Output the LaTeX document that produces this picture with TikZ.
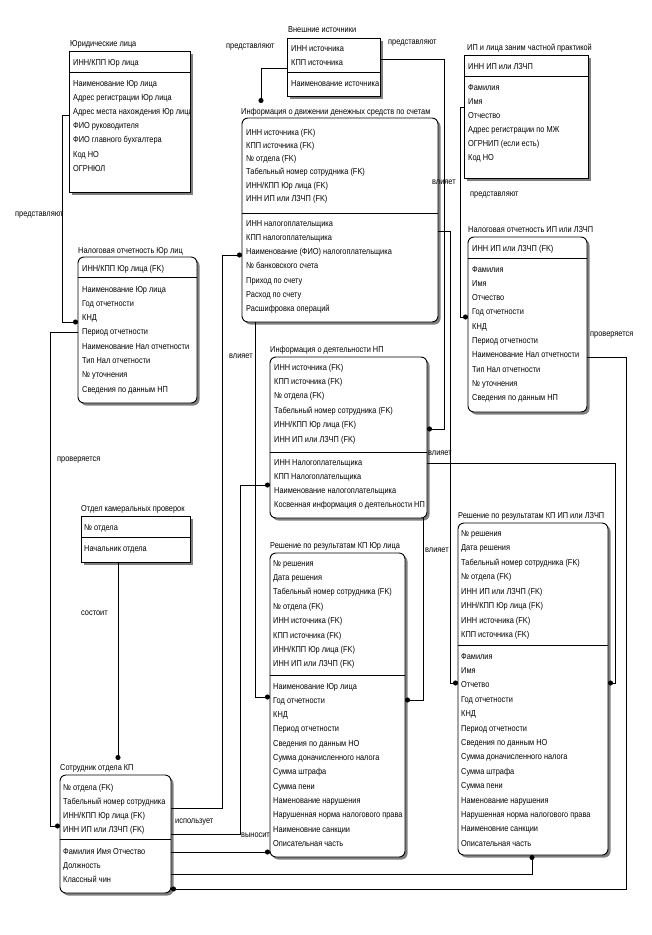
\documentclass[tikz,border=0pt]{standalone}
\usepackage{fontspec}
\setmainfont{Liberation Sans}[FakeStretch=0.86]
\usetikzlibrary{shadows,arrows.meta}
\newcommand\erows[5]{\foreach \t [count=\i] in {#5} {\node[rowtxt] (#1\i) at (#2,{#3+#4*(\i-1)}) {\t};}}
\tikzset{
  rowtxt/.style={anchor=base west, inner sep=0pt, font=\fontsize{8.6}{10}\selectfont},
  ttl/.style={rowtxt},
  lbl/.style={rowtxt},
  ent/.style={draw, line width=0.9pt, inner sep=0pt, outer sep=0pt, anchor=north west, fill=white,
    drop shadow={shadow xshift=2.5pt, shadow yshift=-2.5pt, fill=black!50, opacity=1}},
  dep/.style={ent, rounded corners=6pt},
  sepl/.style={line width=0.9pt},
  rel/.style={line width=0.8pt},
  dot/.style={-{Circle[length=5pt,width=5pt]}}
}
\begin{document}
\begin{tikzpicture}[x=1pt,y=-1pt]
\fill[white] (0,0) rectangle (652,935);
\useasboundingbox (0,0) rectangle (652,935);

% ---------- entities ----------
\node[ent, minimum width=121pt, minimum height=141pt] (JL) at (69,51) {};
\node[ent, minimum width=93pt, minimum height=58pt] (VI) at (287,38) {};
\node[ent, minimum width=124pt, minimum height=123pt] (IP) at (464,55) {};
\node[dep, minimum width=119pt, minimum height=175pt] (NI) at (468,237) {};
\node[dep, minimum width=196pt, minimum height=204pt] (MD) at (242,118) {};
\node[dep, minimum width=157pt, minimum height=161pt] (ND) at (270,357) {};
\node[dep, minimum width=119pt, minimum height=146pt] (NU) at (78,257) {};
\node[ent, minimum width=109pt, minimum height=46pt] (OK) at (81,516) {};
\node[dep, minimum width=111pt, minimum height=118pt] (SO) at (60,775) {};
\node[dep, minimum width=135pt, minimum height=304pt] (RU) at (270,553) {};
\node[dep, minimum width=150pt, minimum height=332pt] (RI) at (458,523) {};

% separators
\draw[sepl] (JL.west |- 0,72) -- (JL.east |- 0,72);
\draw[sepl] (VI.west |- 0,72) -- (VI.east |- 0,72);
\draw[sepl] (IP.west |- 0,76) -- (IP.east |- 0,76);
\draw[sepl] (NI.west |- 0,258) -- (NI.east |- 0,258);
\draw[sepl] (MD.west |- 0,213) -- (MD.east |- 0,213);
\draw[sepl] (ND.west |- 0,452) -- (ND.east |- 0,452);
\draw[sepl] (NU.west |- 0,277) -- (NU.east |- 0,277);
\draw[sepl] (OK.west |- 0,537) -- (OK.east |- 0,537);
\draw[sepl] (SO.west |- 0,839) -- (SO.east |- 0,839);
\draw[sepl] (RU.west |- 0,675) -- (RU.east |- 0,675);
\draw[sepl] (RI.west |- 0,645) -- (RI.east |- 0,645);

% titles
\node[ttl] (JLt) at (70,46) {Юридические лица};
\node[ttl] (VIt) at (288,32) {Внешние источники};
\node[ttl] (IPt) at (467,50) {ИП и лица заним частной практикой};
\node[ttl] (NIt) at (468,232) {Налоговая отчетность ИП или ЛЗЧП};
\node[ttl] (MDt) at (241,114) {Информация о движении денежных средств по счетам};
\node[ttl] (NDt) at (270,352) {Информация о деятельности НП};
\node[ttl] (NUt) at (78,253) {Налоговая отчетность Юр лиц};
\node[ttl] (OKt) at (81,511) {Отдел камеральных проверок};
\node[ttl] (SOt) at (60,770) {Сотрудник отдела КП};
\node[ttl] (RUt) at (270,548) {Решение по результатам КП Юр лица};
\node[ttl] (RIt) at (458,518) {Решение по результатам КП ИП или ЛЗЧП};

% rows
\erows{JLk}{73}{65}{14}{ИНН/КПП Юр лица}
\begin{scope}
\clip (JL.north west) rectangle (JL.south east);
\erows{JLa}{73}{86}{14.2}{Наименование Юр лица, Адрес регистрации Юр лица, Адрес места нахождения Юр лица, ФИО руководителя, ФИО главного бухгалтера, Код НО, ОГРНЮЛ}
\end{scope}
\erows{VIk}{291}{51}{14}{ИНН источника, КПП источника}
\erows{VIa}{291}{86}{14}{Наименование источника}
\erows{IPk}{468}{69}{14}{ИНН ИП или ЛЗЧП}
\erows{IPa}{468}{90}{14.1}{Фамилия, Имя, Отчество, Адрес регистрации по МЖ, ОГРНИП (если есть), Код НО}
\erows{NIk}{472}{251}{14}{ИНН ИП или ЛЗЧП (FK)}
\erows{NIa}{472}{272}{14.3}{Фамилия, Имя, Отчество, Год отчетности, КНД, Период отчетности, Наименование Нал отчетности, Тип Нал отчетности, № уточнения, Сведения по данным НП}
\erows{MDk}{246}{135}{13.3}{ИНН источника (FK), КПП источника (FK), № отдела (FK), Табельный номер сотрудника (FK), ИНН/КПП Юр лица (FK), ИНН ИП или ЛЗЧП (FK)}
\erows{MDa}{246}{226}{14.3}{ИНН налогоплательщика, КПП налогоплательщика, Наименование (ФИО) налогоплательщика, № банковского счета, Приход по счету, Расход по счету, Расшифровка операций}
\erows{NDk}{274}{370}{14.4}{ИНН источника (FK), КПП источника (FK), № отдела (FK), Табельный номер сотрудника (FK), ИНН/КПП Юр лица (FK), ИНН ИП или ЛЗЧП (FK)}
\erows{NDa}{274}{465}{14}{ИНН Налогоплательщика, КПП Налогоплательщика, Наименование налогоплательщика, Косвенная информация о деятельности НП}
\erows{NUk}{82}{271}{14}{ИНН/КПП Юр лица (FK)}
\erows{NUa}{82}{292}{14.3}{Наименование Юр лица, Год отчетности, КНД, Период отчетности, Наименование Нал отчетности, Тип Нал отчетности, № уточнения, Сведения по данным НП}
\erows{OKk}{84}{530}{14}{№ отдела}
\erows{OKa}{84}{551}{14}{Начальник отдела}
\erows{SOk}{63}{790}{14}{№ отдела (FK), Табельный номер сотрудника, ИНН/КПП Юр лица (FK), ИНН ИП или ЛЗЧП (FK)}
\erows{SOa}{63}{854}{14}{Фамилия Имя Отчество, Должность, Классный чин}
\erows{RUk}{273}{566}{14.4}{№ решения, Дата решения, Табельный номер сотрудника (FK), № отдела (FK), ИНН источника (FK), КПП источника (FK), ИНН/КПП Юр лица (FK), ИНН ИП или ЛЗЧП (FK)}
\erows{RUa}{273}{689}{14.3}{Наименование Юр лица, Год отчетности, КНД, Период отчетности, Сведения по данным НО, Сумма доначисленного налога, Сумма штрафа, Сумма пени, Наменование нарушения, Нарушенная норма налогового права, Наименовние санкции, Описательная часть}
\erows{RIk}{461}{536}{14.5}{№ решения, Дата решения, Табельный номер сотрудника (FK), № отдела (FK), ИНН ИП или ЛЗЧП (FK), ИНН/КПП Юр лица (FK), ИНН источника (FK), КПП источника (FK)}
\erows{RIa}{461}{659}{14.4}{Фамилия, Имя, Отчетво, Год отчетности, КНД, Период отчетности, Сведения по данным НО, Сумма доначисленного налога, Сумма штрафа, Сумма пени, Наменование нарушения, Нарушенная норма налогового права, Наименовние санкции, Описательная часть}

% ---------- connectors ----------
\coordinate (c2) at (261,103);
\coordinate (c7) at (118,760);
\draw[rel,dot] (JL.west |- 0,115) -- (62,115) -- (62,322) -- (NU.west |- 0,322);
\draw[rel,dot] (VI.west |- 0,68) -- (261,68) -- (c2);
\draw[rel,dot] (VI.east |- 0,59) -- (444,59) -- (444,429) -- (ND.east |- 0,429);
\draw[rel,dot] (IP.west |- 0,107) -- (460,107) -- (460,317) -- (NI.west |- 0,317);
\draw[rel,dot] (NI.east |- 0,357) -- (626,357) -- (626,889) -- (SO.east |- 0,889);
\draw[rel,dot] (NU.west |- 0,332) -- (50,332) -- (50,826) -- (SO.west |- 0,826);
\draw[rel,dot] (OK.south -| 118,0) -- (c7);
\draw[rel,dot] (SO.east |- 0,808) -- (222,808) -- (222,255) -- (MD.west |- 0,255);
\draw[rel,dot] (MD.south -| 255,0) -- (255,697) -- (RU.west |- 0,697);
\draw[rel,dot] (SO.east |- 0,834) -- (240,834) -- (240,485) -- (ND.west |- 0,485);
\draw[rel,dot] (SO.east |- 0,852) -- (RU.west |- 0,852);
\draw[rel,dot] (ND.south -| 423,0) -- (423,700) -- (RU.east |- 0,700);
\draw[rel,dot] (MD.east |- 0,231) -- (450,231) -- (450,683) -- (RI.west |- 0,683);
\draw[rel,dot] (ND.east |- 0,463) -- (615,463) -- (615,683) -- (RI.east |- 0,683);
\draw[rel,dot] (SO.east |- 0,874) -- (532,874) -- (RI.south -| 532,0);

% ---------- relationship labels ----------
\node[lbl] (L1) at (15,216) {представляют};
\node[lbl] (L2) at (226,48) {представляют};
\node[lbl] (L3) at (388,44) {представляют};
\node[lbl] (L4) at (470,196) {представляют};
\node[lbl] (L5) at (590,336) {проверяется};
\node[lbl] (L6) at (57,461) {проверяется};
\node[lbl] (L7) at (81,615) {состоит};
\node[lbl] (L8) at (175,823) {использует};
\node[lbl] (L9) at (229,358) {влияет};
\node[lbl] (L10) at (241,837) {выносит};
\node[lbl] (L11) at (432,184) {влияет};
\node[lbl] (L12) at (428,455) {влияет};
\node[lbl] (L13) at (425,552) {влияет};
\end{tikzpicture}
\end{document}
